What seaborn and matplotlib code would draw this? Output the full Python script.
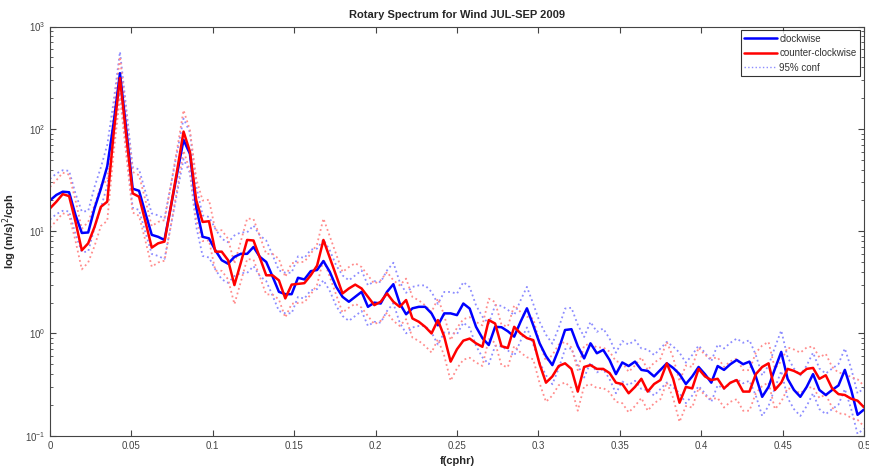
import numpy as np
import pandas as pd
import matplotlib
matplotlib.use("Agg")
import matplotlib.pyplot as plt
import seaborn as sns

# -----------------------------
# data
# -----------------------------
freq = np.arange(129) / 256  # cphr, 0 .. 0.5

clockwise = [
    20, 22.6, 24.3, 24, 14.4, 9.6, 9.7, 16.7, 26, 43,
    114, 350, 97, 26, 24.8, 15, 9.2, 8.8, 8.2, 17.3,
    36.6, 78, 57, 17, 8.8, 8.5, 6.5, 5.2, 4.8, 5.6,
    6.0, 6.0, 7.0, 5.6, 5.0, 3.6, 2.55, 2.42, 2.42, 3.5,
    3.37, 4.06, 4.17, 5.1, 4.0, 2.86, 2.28, 2.04, 2.28, 2.55,
    1.82, 2.0, 1.96, 2.55, 3.03, 1.96, 1.54, 1.76, 1.82, 1.82,
    1.57, 1.2, 1.57, 1.57, 1.51, 1.96, 1.75, 1.16, 0.9, 0.77,
    1.16, 1.15, 1.05, 0.93, 1.3, 1.76, 1.2, 0.8, 0.6, 0.49,
    0.7, 1.08, 1.1, 0.75, 0.57, 0.8, 0.64, 0.69, 0.55, 0.4,
    0.52, 0.48, 0.53, 0.44, 0.43, 0.38, 0.44, 0.51, 0.46, 0.4,
    0.32, 0.38, 0.47, 0.4, 0.33, 0.48, 0.44, 0.5, 0.55, 0.5,
    0.53, 0.38, 0.24, 0.3, 0.45, 0.66, 0.36, 0.28, 0.24, 0.3,
    0.4, 0.28, 0.25, 0.28, 0.31, 0.44, 0.28, 0.16, 0.18,
]

counter_clockwise = [
    16.7, 19.4, 23, 22, 12.4, 6.5, 7.6, 11, 17.3, 19.4,
    90, 313, 84, 23.4, 21.7, 12.4, 6.9, 7.6, 7.9, 17.3,
    39.6, 94, 60, 20, 12.3, 12.5, 6.3, 6.3, 5.2, 2.97,
    4.9, 8.2, 8.1, 5.5, 3.7, 3.7, 3.3, 2.2, 3.0, 3.05,
    3.1, 3.7, 4.6, 8.2, 5.5, 3.7, 2.46, 2.75, 3.0, 2.75,
    2.28, 1.89, 2.04, 2.46, 2.04, 1.82, 2.12, 1.4, 1.3, 1.16,
    1.0, 1.35, 0.93, 0.53, 0.7, 0.85, 0.89, 0.8, 0.74, 1.35,
    1.25, 0.75, 0.72, 1.16, 1.0, 0.9, 0.86, 0.5, 0.33, 0.38,
    0.48, 0.51, 0.45, 0.27, 0.47, 0.49, 0.45, 0.45, 0.41, 0.33,
    0.32, 0.26, 0.3, 0.36, 0.27, 0.32, 0.35, 0.51, 0.36, 0.21,
    0.3, 0.29, 0.45, 0.38, 0.35, 0.36, 0.29, 0.33, 0.35, 0.27,
    0.27, 0.4, 0.47, 0.51, 0.28, 0.33, 0.45, 0.43, 0.4, 0.45,
    0.46, 0.36, 0.39, 0.29, 0.255, 0.25, 0.23, 0.22, 0.19,
]

# chi-square 95% confidence factors
CONF_LOWER = 0.65
CONF_UPPER = 1.62

xticks = [0, 0.05, 0.1, 0.15, 0.2, 0.25, 0.3, 0.35, 0.4, 0.45, 0.5]
xtick_labels = ["0", "0.05", "0.1", "0.15", "0.2", "0.25", "0.3", "0.35", "0.4", "0.45", "0.5"]

# long-form table for seaborn
cw = np.array(clockwise)
ccw = np.array(counter_clockwise)
df = pd.concat([
    pd.DataFrame({"f": freq, "S": cw, "series": "clockwise"}),
    pd.DataFrame({"f": freq, "S": ccw, "series": "counter-clockwise"}),
])
conf = pd.concat([
    pd.DataFrame({"f": freq, "S": cw * CONF_LOWER, "series": "cw_lo"}),
    pd.DataFrame({"f": freq, "S": cw * CONF_UPPER, "series": "cw_hi"}),
    pd.DataFrame({"f": freq, "S": ccw * CONF_LOWER, "series": "ccw_lo"}),
    pd.DataFrame({"f": freq, "S": ccw * CONF_UPPER, "series": "ccw_hi"}),
])

# -----------------------------
# plot
# -----------------------------
sns.set_style("ticks")
plt.rcParams["font.family"] = ["Liberation Sans", "DejaVu Sans"]
plt.rcParams["xtick.direction"] = "in"
plt.rcParams["ytick.direction"] = "in"

fig = plt.figure(figsize=(8.7, 4.66), dpi=100)
ax = fig.add_axes([0.0575, 0.065, 0.9355, 0.878])

conf_palette = {"cw_lo": "#8c8cff", "cw_hi": "#8c8cff",
                "ccw_lo": "#ff8c8c", "ccw_hi": "#ff8c8c"}
sns.lineplot(data=conf, x="f", y="S", hue="series", palette=conf_palette,
             linewidth=1.3, linestyle=":", legend=False, ax=ax, sort=False)
sns.lineplot(data=df, x="f", y="S", hue="series",
             palette={"clockwise": "#0000ff", "counter-clockwise": "#ff0000"},
             linewidth=1.8, legend=False, ax=ax, sort=False)

ax.set_yscale("log")
ax.set_xlim(0, 0.5)
ax.set_ylim(0.1, 1000)
ax.set_xticks(xticks)
ax.set_xticklabels(xtick_labels)
ax.tick_params(which="both", top=True, right=True, labelsize=7,
               colors="#444444", length=4)
ax.tick_params(which="minor", length=2.5)
for sp in ax.spines.values():
    sp.set_color("#444444")
    sp.set_linewidth(0.8)

ax.set_title("Rotary Spectrum for Wind JUL-SEP 2009", fontsize=8,
             fontweight="bold", pad=6)
ax.set_xlabel("f(cphr)", fontsize=8, fontweight="bold", labelpad=4)
ax.set_ylabel("log (m/s)$^2$/cph", fontsize=8, fontweight="bold", labelpad=4)

handles = [
    plt.Line2D([], [], color="#0000ff", linewidth=1.8),
    plt.Line2D([], [], color="#ff0000", linewidth=1.8),
    plt.Line2D([], [], color="#8c8cff", linewidth=1.0, linestyle=":"),
]
leg = ax.legend(handles, ["clockwise", "counter-clockwise", "95% conf"],
                loc="upper right", fontsize=7, frameon=True, fancybox=False,
                handlelength=3.4, handletextpad=0.2, borderpad=0.35,
                labelspacing=0.45, borderaxespad=0.4)
leg.get_frame().set_edgecolor("black")
leg.get_frame().set_linewidth(0.8)
for t in leg.get_texts():
    t.set_color("#333333")

fig.savefig("out.png", dpi=100)
